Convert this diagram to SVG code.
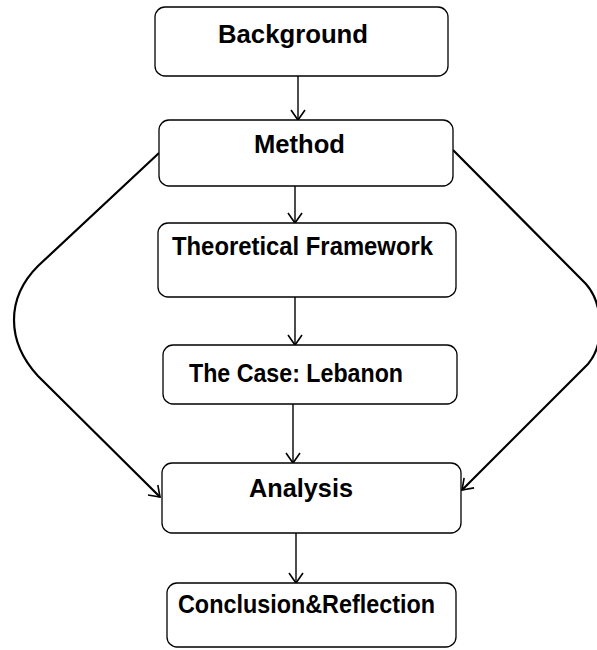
<svg xmlns="http://www.w3.org/2000/svg" width="597" height="650" viewBox="0 0 597 650">
<style>
.box{fill:#fff;stroke:#000;stroke-width:1.3}
.lbl{font-family:"Liberation Sans",Arial,sans-serif;font-weight:bold;font-size:26px;fill:#000}
.c{fill:none;stroke:#000;stroke-width:1.4}
.cv{fill:none;stroke:#000;stroke-width:2.2}
</style>
<defs>
<marker id="ah" viewBox="-12 -8 14 16" refX="0" refY="0" markerWidth="14" markerHeight="16" markerUnits="userSpaceOnUse" orient="auto">
<path d="M-10,-7 L0,0 L-10,7" fill="none" stroke="#000" stroke-width="1.6"/>
</marker>
</defs>
<rect width="597" height="650" fill="#fff"/>
<g id="connectors">
<line class="c" x1="298" y1="76" x2="298" y2="120" marker-end="url(#ah)"/>
<line class="c" x1="295" y1="186" x2="295" y2="223" marker-end="url(#ah)"/>
<line class="c" x1="295" y1="297" x2="295" y2="345" marker-end="url(#ah)"/>
<line class="c" x1="293" y1="404" x2="293" y2="463" marker-end="url(#ah)"/>
<line class="c" x1="296" y1="533" x2="296" y2="583" marker-end="url(#ah)"/>
<path class="cv" d="M159,153 L38,266 Q14,290 14,320 Q14,350 38,376 L160,497" marker-end="url(#ah)"/>
<path class="cv" d="M453,150 L586,284 Q600,300 600,327 Q600,350 588,364 L462,490" marker-end="url(#ah)"/>
</g>
<g id="background">
<rect class="box" x="155" y="7" width="293" height="69" rx="10"/>
<text class="lbl" x="218" y="43" textLength="150" lengthAdjust="spacingAndGlyphs">Background</text>
</g>
<g id="method">
<rect class="box" x="159" y="120" width="294" height="66" rx="10"/>
<text class="lbl" x="254" y="153" textLength="91" lengthAdjust="spacingAndGlyphs">Method</text>
</g>
<g id="theoretical">
<rect class="box" x="158" y="223" width="298" height="74" rx="10"/>
<text class="lbl" x="172" y="255" textLength="261" lengthAdjust="spacingAndGlyphs">Theoretical Framework</text>
</g>
<g id="case">
<rect class="box" x="163" y="345" width="294" height="59" rx="10"/>
<text class="lbl" x="189" y="382" textLength="214" lengthAdjust="spacingAndGlyphs">The Case: Lebanon</text>
</g>
<g id="analysis">
<rect class="box" x="162" y="463" width="299" height="70" rx="10"/>
<text class="lbl" x="249" y="497" textLength="104" lengthAdjust="spacingAndGlyphs">Analysis</text>
</g>
<g id="conclusion">
<rect class="box" x="167" y="583" width="289" height="64" rx="10"/>
<text class="lbl" x="178" y="613" textLength="257" lengthAdjust="spacingAndGlyphs">Conclusion&amp;Reflection</text>
</g>
</svg>
